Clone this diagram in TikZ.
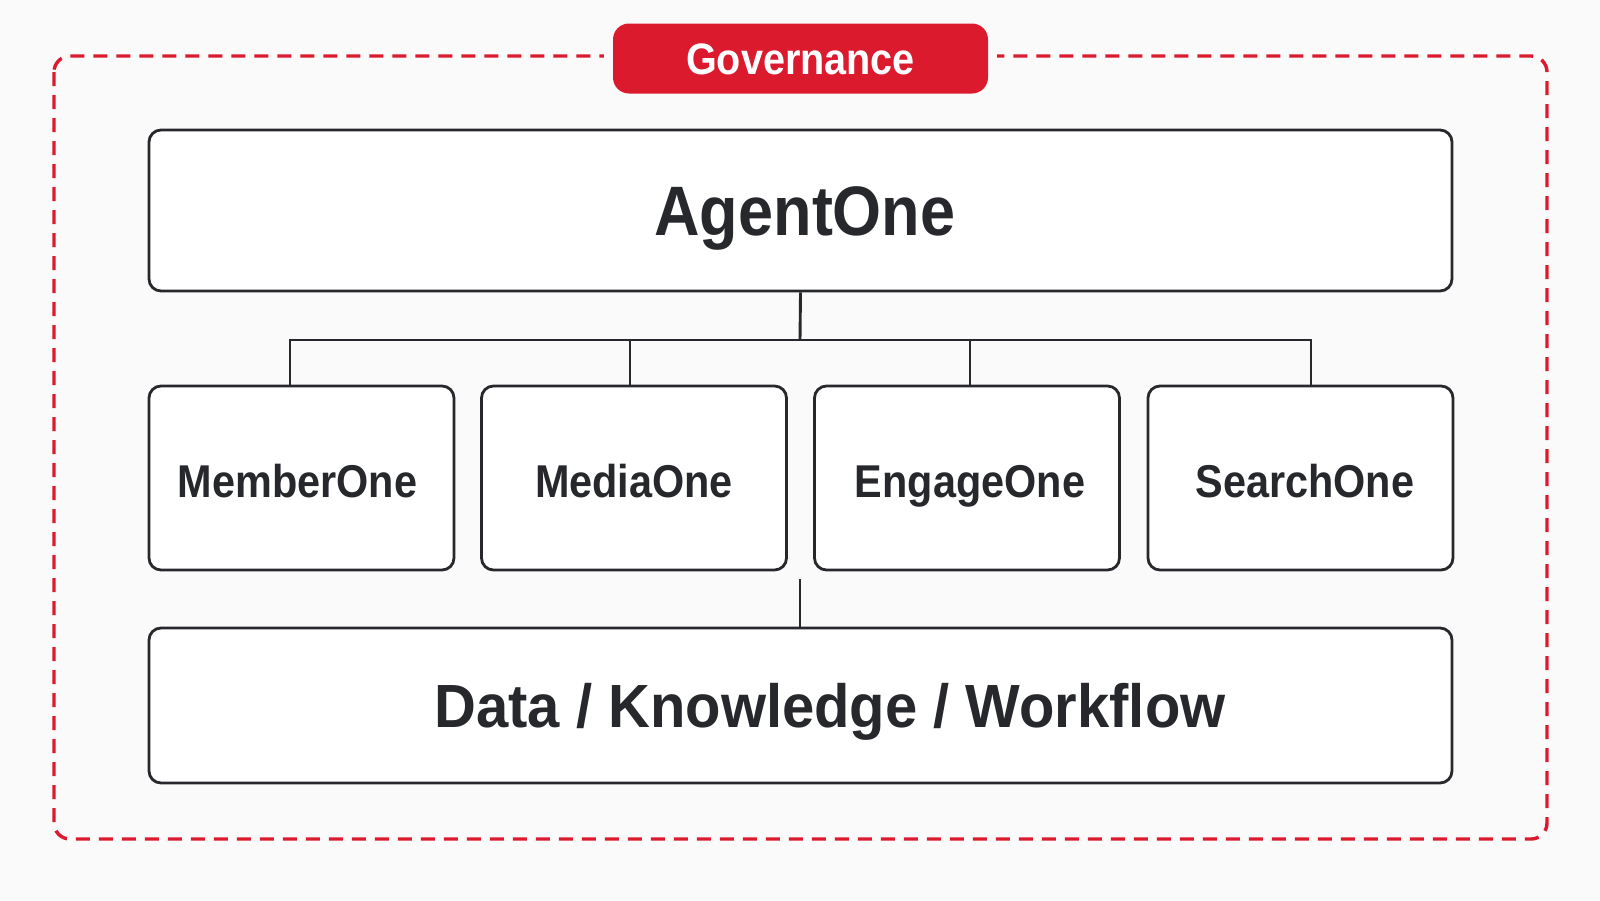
\documentclass[tikz,border=0pt]{standalone}
\usepackage{fontspec}
\setmainfont{Liberation Sans}[FakeStretch=0.9]
\newfontfamily\widesans{Liberation Sans}[FakeStretch=0.95]
\definecolor{bgc}{HTML}{FAFAFA}
\definecolor{redc}{HTML}{DC1A2E}
\definecolor{inkc}{HTML}{26282C}
\tikzset{
  box/.style={draw=inkc, line width=2.8pt, rounded corners=12pt, fill=white, inner sep=0pt, text=inkc, font=\bfseries, text depth=0pt},
  smallbox/.style={box, minimum width=305pt, minimum height=184pt, font=\fontsize{46}{50}\selectfont\bfseries, text height=38pt},
  wire/.style={draw=inkc, line width=2.9pt},
  govline/.style={draw=redc, line width=3.4pt, dash pattern=on 14pt off 9pt, rounded corners=16pt},
}
\begin{document}
\begin{tikzpicture}[x=1pt,y=-1pt]
\fill[bgc] (0,0) rectangle (1600,900);
\useasboundingbox (0,0) rectangle (1600,900);
% governance frame
\draw[govline] (54,56) rectangle (1547,839);
\fill[bgc] (604,40) rectangle (997,76);
\node[fill=redc, rounded corners=16pt, minimum width=375pt, minimum height=70pt, inner sep=0pt, text=white, font=\fontsize{44}{48}\selectfont\bfseries, text height=31.5pt, text depth=0pt] (gov) at (800.5,58.5) {Governance};
% main boxes
\node[box, minimum width=1303pt, minimum height=161pt, font=\fontsize{70}{74}\selectfont\bfseries, text height=50pt] (agent) at (800.5,210.5) {\hspace*{9pt}AgentOne};
\node[smallbox] (member) at (301.5,478) {MemberOne\hspace*{8pt}};
\node[smallbox] (media) at (634,478) {MediaOne};
\node[smallbox] (engage) at (967,478) {\hspace*{6pt}EngageOne};
\node[smallbox] (search) at (1300.5,478) {\hspace*{9pt}SearchOne};
\node[box, minimum width=1303pt, minimum height=155pt, font=\widesans\fontsize{61}{66}\selectfont\bfseries, text height=43.7pt] (data) at (800.5,705.5) {\hspace*{59pt}Data / Knowledge / Workflow};
% connectors
\coordinate (bus) at (800,340);
\draw[wire] (agent.south) -- (bus);
\draw[wire] (bus) -| ([xshift=-11.5pt]member.north);
\draw[wire] (bus) -| ([xshift=-4pt]media.north);
\draw[wire] (bus) -| ([xshift=3pt]engage.north);
\draw[wire] (bus) -| ([xshift=10.5pt]search.north);
\coordinate (low) at (800,579);
\draw[wire] (low) -- (low |- data.north);
\end{tikzpicture}
\end{document}
